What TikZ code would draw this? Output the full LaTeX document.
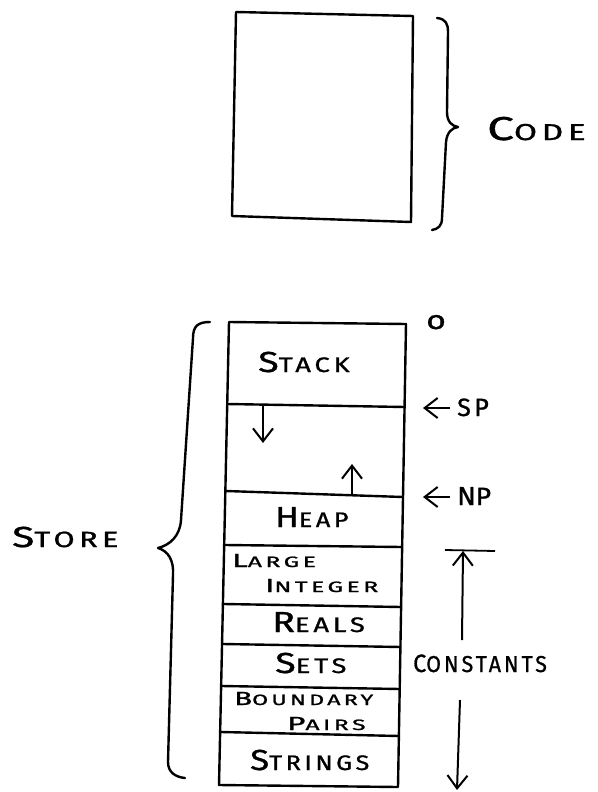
\documentclass[tikz,border=0pt]{standalone}
\usepackage{fontspec}
\usepackage{graphicx}
\usetikzlibrary{arrows.meta}
\newfontfamily\hand[LetterSpace=14,FakeBold=1]{Fira Sans}
\newcommand\hc[5]{\scalebox{#3}[1]{{\fontsize{#1}{#1}\selectfont #4}{\fontsize{#2}{#2}\selectfont #5}}}
\tikzset{
  box/.style={line width=2.4pt, line join=round},
  lbl/.style={inner sep=0pt, anchor=base west, font=\hand},
  brc/.style={line width=2.4pt, line cap=round, line join=round},
  ptr/.style={line width=2pt, -{Straight Barb[length=13pt,width=20pt,line width=2pt]}},
}
\begin{document}
\begin{tikzpicture}[x=1pt,y=-1pt]
\useasboundingbox (0,0) rectangle (597,792);
% code box
\draw[box] (236,12) -- (413,16) -- (411,222) -- (232,216) -- cycle;
\draw[brc] (437,18) .. controls (446,19) and (448,24) .. (448,32) -- (447,112)
  .. controls (447,122) and (452,126) .. (458,127)
  .. controls (452,128) and (447,132) .. (446,142) -- (442,218)
  .. controls (442,226) and (438,229) .. (432,230);
\node[lbl] (code) at (487,140) {\hc{33}{23}{1.45}{C}{ODE}};
% store box
\draw[box] (229,322) -- (406,324) -- (398,787) -- (219,785) -- cycle;
\draw[box] (227,404) -- (405,407);
\draw[box] (226,491) -- (403,497);
\draw[box] (225,545) -- (402,547);
\draw[box] (224,604) -- (401,607);
\draw[box] (223,644) -- (401,647);
\draw[box] (222,686) -- (400,689);
\draw[box] (221,732) -- (399,736);
% store brace
\draw[brc] (210,322) .. controls (198,322) and (193,326) .. (193,338) -- (181,520)
  .. controls (180,536) and (170,545) .. (158,548)
  .. controls (168,551) and (174,560) .. (173,575) -- (168,762)
  .. controls (168,772) and (175,777) .. (185,778);
\node[lbl] (store) at (12,547) {\hc{29}{22}{1.4}{S}{TORE}};
% labels
\node[lbl] (stack) at (258,372) {\hc{29}{21}{1.3}{S}{TACK}};
\node[lbl] (heap) at (275,527) {\hc{29}{21}{1.2}{H}{EAP}};
\node[lbl] (large) at (232,567) {\hc{19}{15}{1.65}{L}{ARGE}};
\node[lbl] (integer) at (265,592) {\hc{19}{15}{1.65}{I}{NTEGER}};
\node[lbl] (reals) at (272,632) {\hc{29}{21}{1.3}{R}{EALS}};
\node[lbl] (sets) at (275,673) {\hc{29}{21}{1.3}{S}{ETS}};
\node[lbl] (boundary) at (234,705) {\hc{19}{15}{1.55}{B}{OUNDARY}};
\node[lbl] (pairs) at (287,730) {\hc{19}{15}{1.65}{P}{AIRS}};
\node[lbl] (strings) at (250,770) {\hc{29}{21}{1.2}{S}{TRINGS}};
\node[lbl] (zero) at (426,329) {\scalebox{1.3}[1]{\fontsize{26}{26}\selectfont o}};
% stack/heap growth arrows
\coordinate (sd0) at (263,406);
\coordinate (sd1) at (263,443);
\draw[ptr] (sd0) -- (sd1);
\coordinate (hu0) at (352,495);
\coordinate (hu1) at (352,464);
\draw[ptr] (hu0) -- (hu1);
% SP / NP
\node[lbl] (sp) at (457,416) {\hc{25}{25}{1.0}{S}{P}};
\coordinate (spt) at (423,408);
\coordinate (sps) at (450,408);
\draw[ptr] (sps) -- (spt);
\node[lbl] (np) at (457,505) {\hc{26}{25}{1.05}{N}{P}};
\coordinate (npt) at (423,497);
\coordinate (nps) at (450,497);
\draw[ptr] (nps) -- (npt);
% constants
\node[lbl] (const) at (413,672) {\hc{25}{23}{0.93}{C}{ONSTANTS}};
\coordinate (bl) at (445,550);
\coordinate (br) at (495,551);
\draw[line width=1.8pt] (bl) -- (br);
\coordinate (ctop) at (463,551);
\coordinate (cu0) at (462,640);
\draw[ptr] (cu0) -- (ctop);
\coordinate (cd0) at (460,700);
\coordinate (cd1) at (457,790);
\draw[ptr] (cd0) -- (cd1);
\end{tikzpicture}
\end{document}
